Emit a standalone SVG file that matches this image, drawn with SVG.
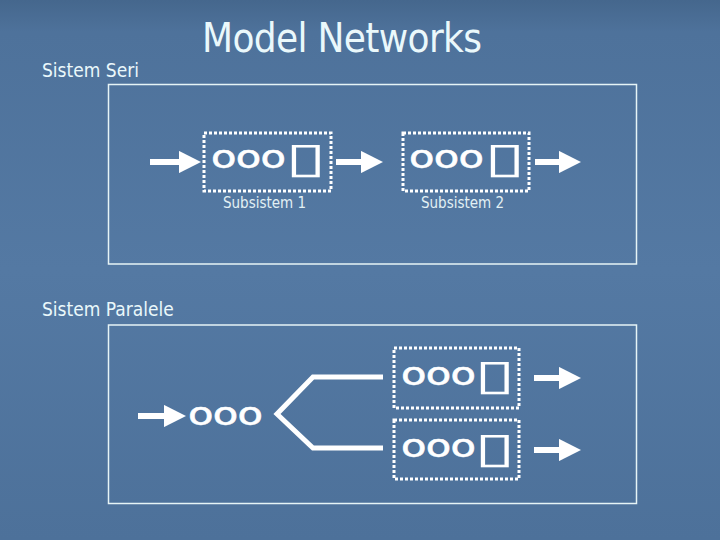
<svg xmlns="http://www.w3.org/2000/svg" width="720" height="540" viewBox="0 0 720 540">
<defs>
<linearGradient id="bg" x1="0" y1="0" x2="0" y2="1">
<stop offset="0" stop-color="#45678d"/>
<stop offset="0.06" stop-color="#4e729b"/>
<stop offset="0.5" stop-color="#5479a3"/>
<stop offset="1" stop-color="#4d719a"/>
</linearGradient>
<marker id="ah" viewBox="0 0 10 10" refX="0" refY="5" markerWidth="3.7" markerHeight="3.8" orient="auto" markerUnits="strokeWidth">
<path d="M0,0 L10,5 L0,10 Z" fill="#ffffff"/>
</marker>
<style>
.frame{fill:none;stroke:#e6f4f6;stroke-width:1.5}
.dbox{fill:none;stroke:#ffffff;stroke-width:3;stroke-dasharray:3 2}
.arr{stroke:#ffffff;stroke-width:6;fill:none;marker-end:url(#ah)}
.fork{stroke:#ffffff;stroke-width:5;fill:none;stroke-linejoin:miter}
.ooo{font-family:"DejaVu Sans",sans-serif;font-size:32px;fill:#ffffff;stroke:#ffffff;stroke-width:0.6}
.tofu{font-family:"DejaVu Sans",sans-serif;font-size:42px;fill:#ffffff}
.title{font-family:"DejaVu Sans Condensed","DejaVu Sans",sans-serif;font-size:40px;fill:#eaf8fb}
.lbl{font-family:"DejaVu Sans Condensed","DejaVu Sans",sans-serif;font-size:19px;fill:#eaf8fb}
.sub{font-family:"DejaVu Sans Condensed","DejaVu Sans",sans-serif;font-size:15px;fill:#e2f0f4}
</style>
</defs>
<rect width="720" height="540" fill="url(#bg)"/>
<text class="title" x="202" y="52" textLength="280">Model Networks</text>
<text class="lbl" x="42" y="77">Sistem Seri</text>
<text class="lbl" x="42" y="316">Sistem Paralele</text>
<rect class="frame" x="108.5" y="84.5" width="528" height="179.5"/>
<rect class="frame" x="108.5" y="325" width="528" height="178.5"/>
<g id="subsistem1">
<rect class="dbox" x="204" y="133" width="127" height="58"/>
<text class="ooo" transform="translate(211,168) scale(1.3,1)" x="0 19 38">ooo</text>
<text class="tofu" transform="translate(285,172) scale(1.8,1)">▯</text>
<text class="sub" x="223" y="208">Subsistem 1</text>
</g>
<g id="subsistem2">
<rect class="dbox" x="403" y="133" width="126" height="58"/>
<text class="ooo" transform="translate(409,168) scale(1.3,1)" x="0 19 38">ooo</text>
<text class="tofu" transform="translate(484,172) scale(1.8,1)">▯</text>
<text class="sub" x="421" y="208">Subsistem 2</text>
</g>
<g id="input-par">
<text class="ooo" transform="translate(188,425) scale(1.3,1)" x="0 19 38">ooo</text>
</g>
<g id="par1">
<rect class="dbox" x="394" y="348" width="125" height="60"/>
<text class="ooo" transform="translate(401,385) scale(1.3,1)" x="0 19 38">ooo</text>
<text class="tofu" transform="translate(474,389) scale(1.8,1)">▯</text>
</g>
<g id="par2">
<rect class="dbox" x="394" y="420" width="125" height="59"/>
<text class="ooo" transform="translate(401,457) scale(1.3,1)" x="0 19 38">ooo</text>
<text class="tofu" transform="translate(474,462) scale(1.8,1)">▯</text>
</g>
<g id="connectors">
<line class="arr" x1="150" y1="162" x2="179" y2="162"/>
<line class="arr" x1="336" y1="162" x2="361" y2="162"/>
<line class="arr" x1="535" y1="162" x2="559" y2="162"/>
<line class="arr" x1="138" y1="416" x2="164" y2="416"/>
<polyline class="fork" points="383,377 313,377 277,414 313,448 383,448"/>
<line class="arr" x1="534" y1="378" x2="559" y2="378"/>
<line class="arr" x1="534" y1="450" x2="559" y2="450"/>
</g>
</svg>
